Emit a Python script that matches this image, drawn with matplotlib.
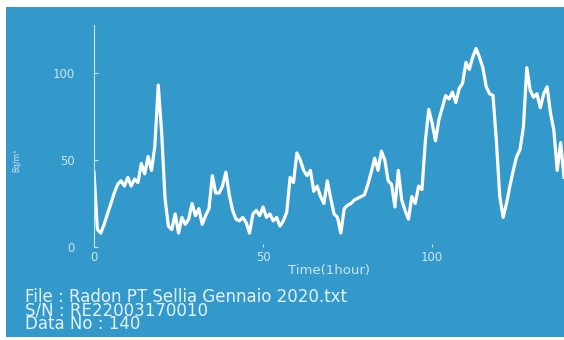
import matplotlib
matplotlib.use('Agg')
import matplotlib.pyplot as plt
from matplotlib.patches import Rectangle

# Radon readings, one per hour (Bq/m3)
hours = list(range(140))
radon = [43, 10, 8, 13, 19, 25, 31, 36, 38, 35,
         40, 35, 39, 37, 48, 42, 52, 44, 58, 93,
         66, 28, 12, 10, 19, 8, 17, 13, 16, 25,
         18, 22, 13, 18, 22, 41, 31, 31, 35, 43,
         30, 21, 16, 15, 17, 14, 8, 19, 21, 18,
         23, 17, 19, 15, 17, 12, 15, 20, 40, 37,
         54, 50, 44, 41, 44, 32, 35, 29, 25, 38,
         28, 19, 17, 8, 22, 24, 25, 27, 28, 29,
         30, 36, 43, 51, 44, 55, 50, 38, 36, 23,
         44, 27, 21, 16, 29, 25, 35, 33, 61, 79,
         71, 61, 73, 80, 87, 85, 89, 83, 91, 94,
         106, 102, 109, 114, 109, 103, 92, 88, 87, 61,
         29, 17, 25, 35, 44, 52, 56, 69, 103, 90,
         86, 88, 80, 88, 92, 77, 67, 44, 60, 40]

xticks = [0, 50, 100]
yticks = [0, 50, 100]
info_lines = ['File : Radon PT Sellia Gennaio 2020.txt',
              'S/N : RE22003170010',
              'Data No : 140']

bg = '#3399cb'
pale = '#cfe4f1'
W, H = 564, 340

fig = plt.figure(figsize=(W / 100, H / 100), dpi=100, facecolor='white')
# blue screen area (screenshot has a thin white margin top/left)
fig.patches.append(Rectangle((6 / W, 3 / H), 1 - 6 / W, 1 - 10 / H,
                             transform=fig.transFigure, facecolor=bg,
                             edgecolor='none', zorder=-10))

ax = fig.add_axes([94 / W, 93 / H, 470 / W, 222 / H])
ax.set_facecolor('none')
ax.plot(hours, radon, color='white', linewidth=2.3)
ax.set_xlim(0, 139)
ax.set_ylim(0, 127.5)

for s in ['top', 'right', 'bottom']:
    ax.spines[s].set_visible(False)
ax.spines['left'].set_color(pale)
ax.spines['left'].set_linewidth(0.8)

ax.set_xticks(xticks)
ax.set_yticks(yticks)
ax.tick_params(axis='y', direction='in', length=3, color=pale, labelcolor=pale,
               labelsize=8.5, pad=14)
ax.tick_params(axis='x', direction='in', length=2, color=pale, labelcolor=pale,
               labelsize=8.5, pad=3)

ax.set_xlabel('Time(1hour)', color=pale, fontsize=9.5, labelpad=0)
fig.text(17 / W, 1 - 160 / H, 'Bq/m³', rotation=90, color=pale, fontsize=5.5,
         ha='center', va='center')

# file info block, lines packed tight as on the device screen
fig.text(25 / W, 1 - 288 / H, '\n'.join(info_lines), color='#e6f1f8',
         fontsize=12, ha='left', va='top', linespacing=0.68)

fig.savefig('out.png', dpi=100, facecolor='white')
